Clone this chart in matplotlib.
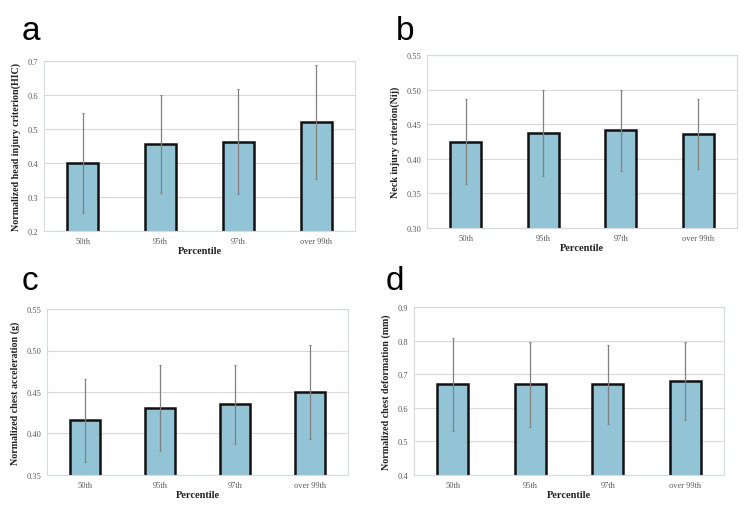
import matplotlib
matplotlib.use("Agg")
import matplotlib.pyplot as plt
import numpy as np

categories = ["50th", "95th", "97th", "over 99th"]

hic_mean = [0.400, 0.456, 0.463, 0.521]
hic_err = [0.148, 0.145, 0.155, 0.168]

nij_mean = [0.425, 0.437, 0.441, 0.436]
nij_err = [0.061, 0.062, 0.059, 0.051]

acc_mean = [0.416, 0.431, 0.435, 0.450]
acc_err = [0.050, 0.052, 0.048, 0.057]

def_mean = [0.670, 0.670, 0.670, 0.680]
def_err = [0.138, 0.127, 0.117, 0.116]

W, H = 751, 510
fig = plt.figure(figsize=(W / 100, H / 100), dpi=100)

panels = [
    dict(box=(44, 62, 355, 232), mean=hic_mean, err=hic_err, ylim=(0.2, 0.7),
         ticks=[0.2, 0.3, 0.4, 0.5, 0.6, 0.7], fmt="{:.1f}",
         ylabel="Normalized head injury criterion(HIC)", letter="a", lpos=(22, 40)),
    dict(box=(427, 56, 737, 229), mean=nij_mean, err=nij_err, ylim=(0.30, 0.55),
         ticks=[0.30, 0.35, 0.40, 0.45, 0.50, 0.55], fmt="{:.2f}",
         ylabel="Neck injury criterion(Nij)", letter="b", lpos=(396, 40)),
    dict(box=(47, 310, 348, 476), mean=acc_mean, err=acc_err, ylim=(0.35, 0.55),
         ticks=[0.35, 0.40, 0.45, 0.50, 0.55], fmt="{:.2f}",
         ylabel="Normalized chest acceleration (g)", letter="c", lpos=(22, 290)),
    dict(box=(414, 308, 724, 476), mean=def_mean, err=def_err, ylim=(0.4, 0.9),
         ticks=[0.4, 0.5, 0.6, 0.7, 0.8, 0.9], fmt="{:.1f}",
         ylabel="Normalized chest deformation (mm)", letter="d", lpos=(386, 290)),
]

serif = "Liberation Serif"
x = np.arange(len(categories))

for p in panels:
    x0, y0, x1, y1 = p["box"]
    ax = fig.add_axes([x0 / W, (H - y1) / H, (x1 - x0) / W, (y1 - y0) / H])
    ax.bar(x, p["mean"], width=0.4, color="#92c4d6", edgecolor="#111111",
           linewidth=1.8, zorder=2)
    ax.errorbar(x, p["mean"], yerr=p["err"], fmt="none", ecolor="#808080",
                elinewidth=0.9, capsize=0.8, capthick=0.8, zorder=3)
    ax.set_xlim(-0.5, len(categories) - 0.5)
    ax.set_ylim(*p["ylim"])
    ax.set_yticks(p["ticks"])
    ax.set_yticklabels([p["fmt"].format(t) for t in p["ticks"]],
                       fontfamily=serif, fontsize=6, color="#595959")
    ax.set_xticks(x)
    ax.set_xticklabels(categories, fontfamily=serif, fontsize=6, color="#595959")
    ax.tick_params(length=0, pad=4)
    ax.yaxis.grid(True, color="#d9d9d9", linewidth=0.8, zorder=0)
    ax.set_axisbelow(True)
    for s in ax.spines.values():
        s.set_color("#d5dae2")
        s.set_linewidth(0.8)
    ax.set_xlabel("Percentile", fontfamily=serif, fontweight="bold", fontsize=7.5,
                  color="#222222", labelpad=1)
    ax.set_ylabel(p["ylabel"], fontfamily=serif, fontweight="bold", fontsize=7.2,
                  color="#222222", labelpad=5)
    fig.text(p["lpos"][0] / W, 1 - p["lpos"][1] / H, p["letter"],
             fontfamily="Liberation Sans", fontsize=24, color="black",
             ha="left", va="baseline")

fig.savefig("out.png", dpi=100, facecolor="white")
